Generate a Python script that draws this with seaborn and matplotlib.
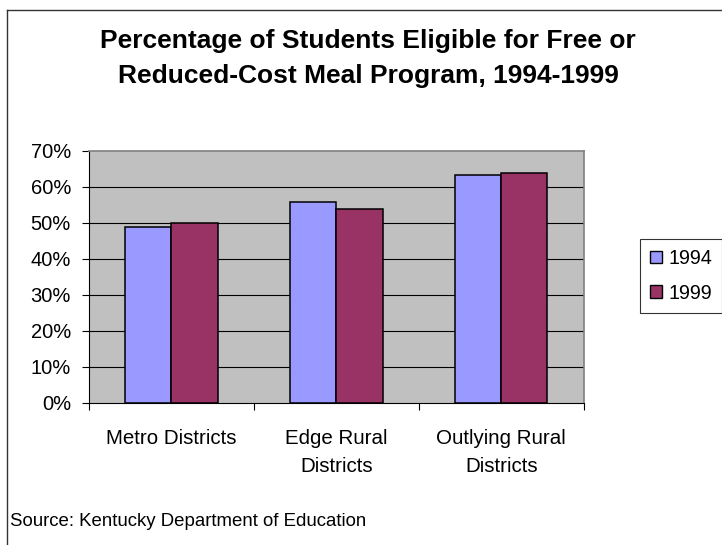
import pandas as pd
import seaborn as sns
import matplotlib.pyplot as plt
from matplotlib.lines import Line2D
from matplotlib.ticker import PercentFormatter

plt.rcParams['font.family'] = ['Liberation Sans', 'DejaVu Sans']

districts = ["Metro Districts", "Edge Rural\nDistricts", "Outlying Rural\nDistricts"]
years = ["1994", "1999"]
pct_1994 = [48.8, 55.7, 63.3]
pct_1999 = [50.0, 53.9, 63.9]
year_colors = ["#9999FF", "#993366"]
y_ticks = [0, 10, 20, 30, 40, 50, 60, 70]

df = pd.DataFrame({
    "district": districts * 2,
    "year": [years[0]] * 3 + [years[1]] * 3,
    "pct": pct_1994 + pct_1999,
})

fig = plt.figure(figsize=(7.22, 5.45), dpi=100)
ax = fig.add_axes([89 / 722, 1 - 402.7 / 545, (583.7 - 89) / 722, (402.7 - 150.7) / 545])
ax.set_facecolor("#C0C0C0")

sns.barplot(data=df, x="district", y="pct", hue="year", order=districts, hue_order=years,
            palette=year_colors, width=0.56, edgecolor="black", linewidth=1.1,
            saturation=1, ax=ax)

ax.set_xlim(-0.5, 2.5)
ax.set_ylim(0, 70)
ax.set_yticks(y_ticks)
ax.yaxis.set_major_formatter(PercentFormatter(decimals=0))
ax.yaxis.grid(True, color="black", linewidth=0.8)
ax.set_axisbelow(True)
grid = ax.yaxis.get_gridlines()
grid[0].set_visible(False)
grid[-1].set_visible(False)

ax.set_xlabel("")
ax.set_ylabel("")
ax.tick_params(axis="y", direction="out", length=5, width=0.8, pad=8, labelsize=14.5)
ax.tick_params(axis="x", which="major", length=0, pad=19, labelsize=14.8)
for lab in ax.get_xticklabels():
    lab.set_linespacing(1.6)
    lab.set_verticalalignment("top")
ax.set_xticks([-0.5, 0.5, 1.5, 2.5], minor=True)
ax.tick_params(axis="x", which="minor", direction="out", length=5, width=0.8)

for side in ["top", "right"]:
    ax.spines[side].set_color("#808080")
    ax.spines[side].set_linewidth(1.2)
for side in ["left", "bottom"]:
    ax.spines[side].set_color("black")
    ax.spines[side].set_linewidth(0.8)

handles, labels = ax.get_legend_handles_labels()
for h in handles:
    h.set_edgecolor("black")
    h.set_linewidth(1.0)
ax.legend(handles, labels, loc="upper left", bbox_to_anchor=(640 / 722, 1 - 239 / 545),
          bbox_transform=fig.transFigure, borderaxespad=0, frameon=True, fancybox=False,
          edgecolor="black", fontsize=14.2, handlelength=0.6, handleheight=0.6,
          handletextpad=0.35, labelspacing=0.8, borderpad=0.5)
ax.get_legend().get_frame().set_linewidth(0.8)

fig.text(368 / 722, 1 - 48 / 545, "Percentage of Students Eligible for Free or",
         ha="center", va="baseline", fontsize=19, fontweight="bold")
fig.text(368 / 722, 1 - 83 / 545, "Reduced-Cost Meal Program, 1994-1999",
         ha="center", va="baseline", fontsize=19, fontweight="bold")
fig.text(10 / 722, 1 - 526 / 545, "Source: Kentucky Department of Education",
         ha="left", va="baseline", fontsize=13.4)

# outer chart border (only top and left visible in the original crop)
fig.add_artist(Line2D([6.5 / 722, 6.5 / 722], [0, 1 - 9.5 / 545], transform=fig.transFigure,
                      color="#333333", linewidth=1.0))
fig.add_artist(Line2D([6.5 / 722, 1], [1 - 9.5 / 545, 1 - 9.5 / 545], transform=fig.transFigure,
                      color="#333333", linewidth=1.0))

fig.savefig("out.png", dpi=100)
